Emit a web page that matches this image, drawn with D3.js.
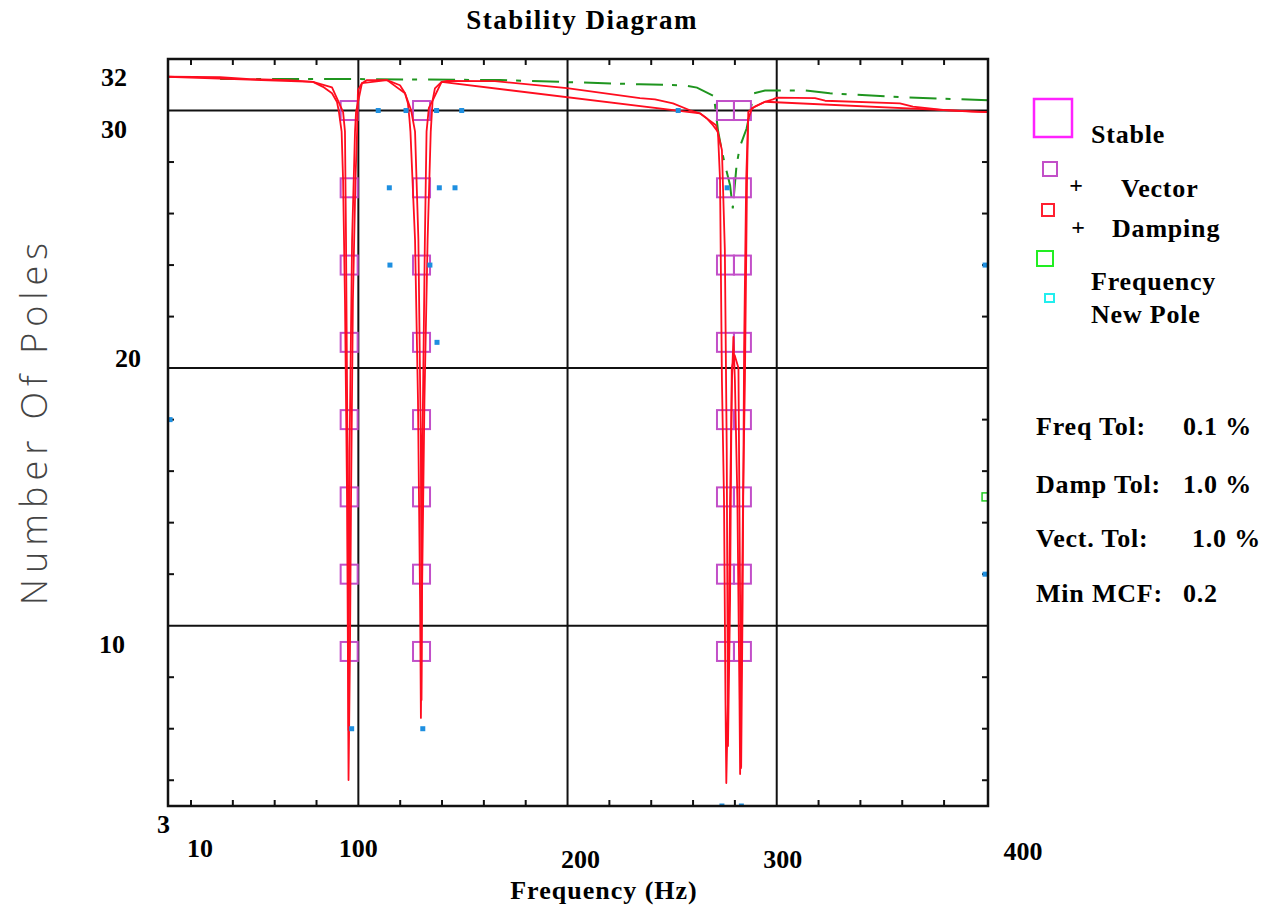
<!DOCTYPE html>
<html>
<head>
<meta charset="utf-8">
<script src="https://cdn.jsdelivr.net/npm/d3@7"></script>
<style>
  html, body { margin: 0; padding: 0; background: #ffffff; }
  svg { display: block; }
  text { font-family: "Liberation Serif", "Times New Roman", serif; fill: #000; font-weight: bold; }
</style>
</head>
<body>
<svg id="chart" width="1264" height="905"></svg>
<script>
// ---- data -------------------------------------------------------------
const modelOrders = [30, 27, 24, 21, 18, 15, 12, 9];
// frequencies (Hz) of the poles that pass all stability checks
const stableFreqs = [95.6, 130.2, 275.5, 283.6];

// response curves overlaid on the diagram: [frequency Hz, plotted level]
const responseOuter = [
  [9.0, 31.31], [33.9, 31.30], [48.2, 31.22], [66.4, 31.18], [78.3, 31.11],
  [83.1, 30.92], [87.4, 30.67], [89.8, 30.33], [90.7, 29.95], [92.0, 29.18],
  [92.7, 27.30], [93.6, 22.64], [94.6, 14.88], [95.0, 9.06], [95.3, 4.01],
  [96.0, 9.06], [96.5, 14.88], [97.4, 22.64], [98.6, 27.30], [99.4, 29.17],
  [99.8, 30.79], [101.7, 31.06], [104.1, 31.18], [113.7, 31.18], [119.9, 30.98],
  [122.3, 30.67], [123.7, 30.28], [124.4, 29.70], [124.9, 29.18], [127.1, 24.97],
  [128.5, 18.76], [129.5, 11.00], [129.9, 6.42], [130.4, 11.00], [131.6, 18.76],
  [133.1, 24.97], [134.6, 29.17], [135.5, 30.39], [136.6, 30.86], [139.8, 31.11],
  [142.4, 31.15], [165.3, 31.14], [199.7, 30.87], [234.6, 30.48], [241.8, 30.43],
  [250.4, 30.28], [258.5, 30.01], [263.3, 29.89], [266.5, 29.70], [269.5, 29.43],
  [271.9, 29.17], [272.9, 27.30], [273.8, 19.54], [274.8, 14.88], [275.5, 7.12],
  [275.9, 3.89], [276.7, 7.12], [277.7, 14.88], [278.6, 19.54], [279.3, 21.21],
  [280.0, 19.54], [281.2, 14.88], [282.2, 7.12], [282.5, 4.24], [282.9, 7.12],
  [283.9, 14.88], [284.8, 19.54], [285.8, 27.30], [286.4, 29.95], [289.6, 30.15],
  [294.4, 30.34], [298.2, 30.43], [300.1, 30.50], [318.3, 30.48], [323.1, 30.38],
  [358.9, 30.28], [365.1, 30.15], [379.5, 30.02], [393.3, 29.96], [401.0, 29.94]
];
const responseInner = [
  [9.0, 31.31], [78.3, 31.11], [87.4, 30.90], [92.7, 29.95], [93.6, 29.18],
  [94.1, 24.97], [94.8, 16.82], [95.3, 5.95], [95.8, 16.82], [97.0, 24.97],
  [98.4, 29.18], [98.9, 29.95], [101.7, 31.06], [113.7, 31.18], [122.3, 30.67],
  [125.2, 30.02], [127.1, 29.18], [128.7, 24.97], [129.9, 16.82], [130.2, 7.12],
  [130.6, 16.82], [131.8, 24.97], [132.6, 29.18], [133.7, 30.10], [135.5, 30.39],
  [139.8, 31.11], [263.3, 29.89], [271.0, 29.43], [273.8, 28.47], [275.2, 24.58],
  [276.1, 16.82], [276.7, 5.33], [277.7, 11.00], [278.5, 20.00], [279.9, 20.50],
  [281.7, 20.00], [282.5, 11.00], [283.0, 4.48], [283.7, 11.00], [284.4, 20.70],
  [285.4, 27.30], [286.3, 29.63], [288.2, 30.10], [294.4, 30.34], [401.0, 29.94]
];
const responseAux = [
  [33.9, 31.22], [99.8, 31.22], [167.7, 31.18], [234.6, 31.02], [255.2, 30.98],
  [261.9, 30.89], [270.0, 30.56], [271.9, 29.24], [273.7, 28.46], [275.3, 27.88],
  [277.7, 27.10], [279.0, 26.20], [280.8, 27.88], [282.4, 28.60], [285.6, 29.30],
  [289.1, 30.67], [294.4, 30.78], [313.5, 30.78], [325.4, 30.67], [358.9, 30.52],
  [401.0, 30.40]
];

// newly appearing poles: [frequency Hz, model order]
const newPoles = [
  [109.5, 30], [122.8, 30], [137.4, 30], [149.4, 30], [252.9, 30],
  [114.8, 27], [138.7, 27], [146.2, 27], [276.3, 27],
  [115.1, 24], [134.2, 24], [399.6, 24],
  [137.6, 21], [10.0, 18], [399.6, 12],
  [96.8, 6], [130.8, 6], [273.8, 3], [283.1, 3]
];
// poles stable in frequency only
const freqPoles = [[399.6, 15]];

const xTickValues = [10, 100, 200, 300, 400];
const yTickValues = [32, 30, 20, 10, 3];
const xMinorTicks = d3.range(20, 400, 20).filter(v => v % 100 !== 0);
const yMinorTicks = d3.range(4, 32, 2).filter(v => v % 10 !== 0);
const xGrid = [100, 200, 300];
const yGrid = [10, 20, 30];

const legendItems = ["Stable", "Vector", "Damping", "Frequency", "New Pole"];
const tolLabels = ["Freq Tol:", "Damp Tol:", "Vect. Tol:", "Min MCF:"];
const tolValues = ["0.1 %", "1.0 %", "1.0 %", "0.2"];

// ---- layout -----------------------------------------------------------
const plot = { left: 168, right: 988, top: 59, bottom: 806 };
const svg = d3.select("#chart");

const x = d3.scaleLinear().domain([9, 401]).range([plot.left, plot.right]);
const y = d3.scaleLinear().domain([3, 32]).range([plot.bottom, plot.top]);

const RED = "#ff0d1f", GREEN = "#1f951f", BLUE = "#1e8fe0", ORCHID = "#c24fc8";

svg.append("defs").append("clipPath").attr("id", "plotClip")
  .append("rect").attr("x", plot.left).attr("y", plot.top)
  .attr("width", plot.right - plot.left).attr("height", plot.bottom - plot.top);

// grid lines
const g = svg.append("g");
g.selectAll(".gx").data(xGrid).join("line")
  .attr("x1", d => x(d)).attr("x2", d => x(d))
  .attr("y1", plot.top).attr("y2", plot.bottom)
  .attr("stroke", "#111").attr("stroke-width", 2);
g.selectAll(".gy").data(yGrid).join("line")
  .attr("y1", d => y(d)).attr("y2", d => y(d))
  .attr("x1", plot.left).attr("x2", plot.right)
  .attr("stroke", "#111").attr("stroke-width", 2);

// minor ticks, inward on all four sides
const tickLen = 6;
g.selectAll(".tb").data(xMinorTicks).join("line")
  .attr("x1", d => x(d)).attr("x2", d => x(d))
  .attr("y1", plot.bottom).attr("y2", plot.bottom - tickLen)
  .attr("stroke", "#111").attr("stroke-width", 2);
g.selectAll(".tt").data(xMinorTicks).join("line")
  .attr("x1", d => x(d)).attr("x2", d => x(d))
  .attr("y1", plot.top).attr("y2", plot.top + tickLen)
  .attr("stroke", "#111").attr("stroke-width", 2);
g.selectAll(".tl").data(yMinorTicks).join("line")
  .attr("y1", d => y(d)).attr("y2", d => y(d))
  .attr("x1", plot.left).attr("x2", plot.left + tickLen)
  .attr("stroke", "#111").attr("stroke-width", 2);
g.selectAll(".tr").data(yMinorTicks).join("line")
  .attr("y1", d => y(d)).attr("y2", d => y(d))
  .attr("x1", plot.right).attr("x2", plot.right - tickLen)
  .attr("stroke", "#111").attr("stroke-width", 2);

// data layer
const data = svg.append("g").attr("clip-path", "url(#plotClip)");
const line = d3.line().x(d => x(d[0])).y(d => y(d[1]));

data.append("path").datum(responseAux).attr("d", line)
  .attr("fill", "none").attr("stroke", GREEN).attr("stroke-width", 2)
  .attr("stroke-dasharray", "27,9,5,11");

// stable pole markers
const stable = [];
modelOrders.forEach(o => stableFreqs.forEach(f => stable.push([f, o])));
const bw = 17, bh = 19;
data.selectAll(".stable").data(stable).join("rect")
  .attr("x", d => x(d[0]) - bw / 2).attr("y", d => y(d[1]) - bh / 2)
  .attr("width", bw).attr("height", bh)
  .attr("fill", "none").attr("stroke", ORCHID).attr("stroke-width", 2);

[responseOuter, responseInner].forEach(series => {
  data.append("path").datum(series).attr("d", line)
    .attr("fill", "none").attr("stroke", RED).attr("stroke-width", 1.8)
    .attr("stroke-linejoin", "round");
});

data.selectAll(".newp").data(newPoles).join("rect")
  .attr("x", d => x(d[0]) - 2.5).attr("y", d => y(d[1]) - 2.5)
  .attr("width", 5).attr("height", 5).attr("fill", BLUE);

data.selectAll(".freqp").data(freqPoles).join("rect")
  .attr("x", d => x(d[0]) - 3).attr("y", d => y(d[1]) - 4)
  .attr("width", 6).attr("height", 8)
  .attr("fill", "none").attr("stroke", "#22cc22").attr("stroke-width", 1.5);

// frame
svg.append("rect").attr("x", plot.left).attr("y", plot.top)
  .attr("width", plot.right - plot.left).attr("height", plot.bottom - plot.top)
  .attr("fill", "none").attr("stroke", "#111").attr("stroke-width", 2.5);

// tick labels
const labelFont = 26;
const xLabelNudge = { 10: [30, 51], 100: [0, 51], 200: [13, 62], 300: [6, 62], 400: [37, 54] };
svg.selectAll(".xl").data(xTickValues).join("text")
  .attr("x", d => x(d) + xLabelNudge[d][0])
  .attr("y", d => plot.bottom + xLabelNudge[d][1])
  .attr("text-anchor", "middle").attr("font-size", labelFont)
  .text(d => d);
const yLabelNudge = { 32: [-41, 27], 30: [-41, 27], 20: [-27, -1], 10: [-43, 27], 3: [2, 27] };
svg.selectAll(".yl").data(yTickValues).join("text")
  .attr("x", d => plot.left + yLabelNudge[d][0])
  .attr("y", d => y(d) + yLabelNudge[d][1])
  .attr("text-anchor", "end").attr("font-size", labelFont)
  .text(d => d);

// titles
svg.append("text").attr("x", 582).attr("y", 29).attr("text-anchor", "middle")
  .attr("font-size", 27).attr("letter-spacing", 1.5).text("Stability Diagram");
svg.append("text").attr("x", 604).attr("y", 899).attr("text-anchor", "middle")
  .attr("font-size", 26).attr("letter-spacing", 1).text("Frequency (Hz)");
svg.append("text")
  .attr("transform", "translate(47,421) rotate(-90)")
  .attr("text-anchor", "middle")
  .style("font-family", "'Open Sans', 'Liberation Sans', sans-serif")
  .style("font-weight", 300)
  .style("fill", "#444")
  .attr("font-size", 36).attr("letter-spacing", 6)
  .text("Number Of Poles");

// legend
const lg = svg.append("g");
lg.append("rect").attr("x", 1034).attr("y", 99).attr("width", 38).attr("height", 38)
  .attr("fill", "none").attr("stroke", "#ff22ff").attr("stroke-width", 2.5);
lg.append("rect").attr("x", 1043).attr("y", 162).attr("width", 14).attr("height", 14)
  .attr("fill", "none").attr("stroke", ORCHID).attr("stroke-width", 2);
lg.append("rect").attr("x", 1042).attr("y", 204).attr("width", 12).attr("height", 12)
  .attr("fill", "none").attr("stroke", "#ff2030").attr("stroke-width", 2);
lg.append("rect").attr("x", 1037).attr("y", 251).attr("width", 16).attr("height", 15)
  .attr("fill", "none").attr("stroke", "#22ee22").attr("stroke-width", 2);
lg.append("rect").attr("x", 1045).attr("y", 294).attr("width", 9).attr("height", 8)
  .attr("fill", "none").attr("stroke", "#22eeee").attr("stroke-width", 2);
lg.append("text").attr("x", 1076).attr("y", 193).attr("text-anchor", "middle")
  .attr("font-size", 24).text("+");
lg.append("text").attr("x", 1078).attr("y", 235).attr("text-anchor", "middle")
  .attr("font-size", 24).text("+");
const legendPos = [[1091, 143], [1121, 197], [1112, 237], [1091, 290], [1091, 323]];
lg.selectAll(".lt").data(legendItems).join("text")
  .attr("x", (d, i) => legendPos[i][0]).attr("y", (d, i) => legendPos[i][1])
  .attr("font-size", 26).attr("letter-spacing", 0.8).text(d => d);

// tolerance settings
const tolY = [435, 493, 547, 602];
const tolValX = [1183, 1183, 1192, 1183];
svg.selectAll(".tl1").data(tolLabels).join("text")
  .attr("x", 1036).attr("y", (d, i) => tolY[i]).attr("font-size", 26)
  .attr("letter-spacing", 0.8).text(d => d);
svg.selectAll(".tv").data(tolValues).join("text")
  .attr("x", (d, i) => tolValX[i]).attr("y", (d, i) => tolY[i]).attr("font-size", 26)
  .attr("letter-spacing", 0.8).text(d => d);
</script>
</body>
</html>
